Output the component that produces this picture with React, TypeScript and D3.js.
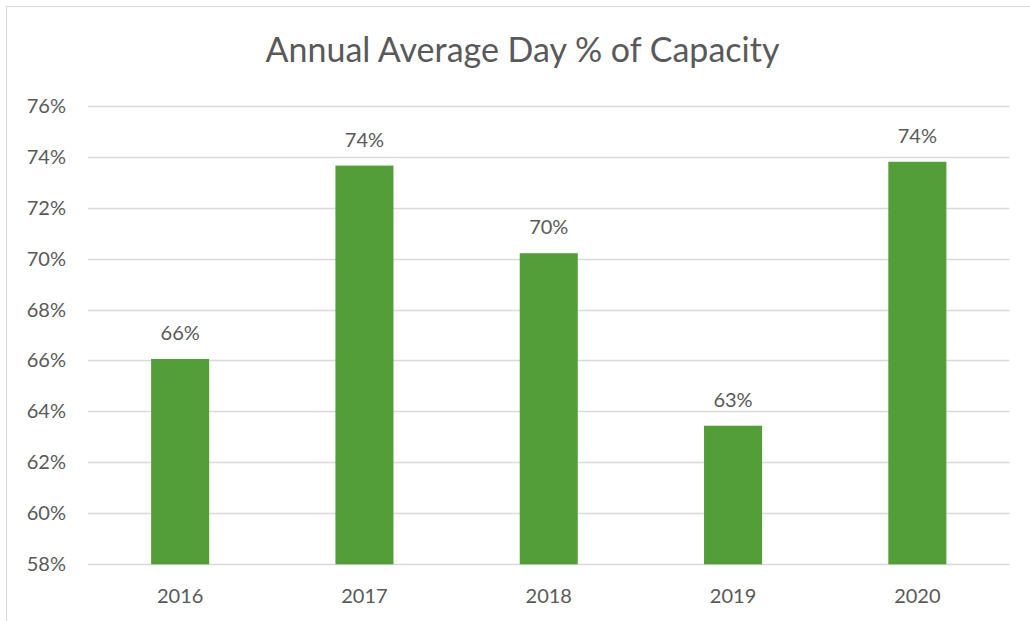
import React, { useEffect, useRef } from "react";
import * as d3 from "d3";

const title = "Annual Average Day % of Capacity";
const years = ["2016", "2017", "2018", "2019", "2020"];
const capacity = [66.06, 73.65, 70.21, 63.44, 73.8];
const yTicks = [58, 60, 62, 64, 66, 68, 70, 72, 74, 76];

const W = 1030;
const H = 621;
const FONT = "Lato, 'Open Sans', sans-serif";
const TEXT = "#595959";
const GRID = "#d9d9d9";
const BAR = "#549e39";

export default function App() {
  const ref = useRef<SVGSVGElement | null>(null);

  useEffect(() => {
    const svg = d3.select(ref.current);
    svg.selectAll("*").remove();

    const left = 88, right = 1009.5, top = 105.7, bottom = 564.3;

    const x = d3.scaleBand<string>()
      .domain(years)
      .range([left, right])
      .paddingInner(0.685)
      .paddingOuter(0.3425);
    const y = d3.scaleLinear().domain([58, 76]).range([bottom, top]);

    svg.append("rect")
      .attr("x", 0).attr("y", 0).attr("width", W).attr("height", H)
      .attr("fill", "#ffffff");
    svg.append("rect")
      .attr("x", 6.5).attr("y", 6.5).attr("width", W + 20).attr("height", H + 20)
      .attr("fill", "none").attr("stroke", GRID).attr("stroke-width", 1);

    svg.append("text")
      .attr("x", 522.5)
      .attr("y", 61.5)
      .attr("text-anchor", "middle")
      .attr("font-family", FONT)
      .attr("font-size", 34)
      .attr("fill", TEXT)
      .text(title);

    const grid = svg.append("g");
    grid.selectAll("line")
      .data(yTicks)
      .join("line")
      .attr("x1", left).attr("x2", right)
      .attr("y1", (d) => Math.round(y(d)) + 0.5)
      .attr("y2", (d) => Math.round(y(d)) + 0.5)
      .attr("stroke", GRID)
      .attr("stroke-width", 1.3);

    svg.append("g").selectAll("text")
      .data(yTicks)
      .join("text")
      .attr("x", 66)
      .attr("y", (d) => y(d))
      .attr("dy", "0.35em")
      .attr("text-anchor", "end")
      .attr("font-family", FONT)
      .attr("font-size", 20)
      .attr("fill", TEXT)
      .text((d) => `${d}%`);

    svg.append("g").selectAll("rect")
      .data(capacity)
      .join("rect")
      .attr("x", (_, i) => x(years[i])!)
      .attr("width", x.bandwidth())
      .attr("y", (d) => y(d))
      .attr("height", (d) => y(58) - y(d))
      .attr("fill", BAR);

    svg.append("g").selectAll("text")
      .data(capacity)
      .join("text")
      .attr("x", (_, i) => x(years[i])! + x.bandwidth() / 2)
      .attr("y", (d) => y(d) - 19)
      .attr("text-anchor", "middle")
      .attr("font-family", FONT)
      .attr("font-size", 20)
      .attr("fill", TEXT)
      .text((d) => `${Math.round(d)}%`);

    svg.append("g").selectAll("text")
      .data(years)
      .join("text")
      .attr("x", (d) => x(d)! + x.bandwidth() / 2)
      .attr("y", 603)
      .attr("text-anchor", "middle")
      .attr("font-family", FONT)
      .attr("font-size", 20)
      .attr("fill", TEXT)
      .text((d) => d);
  }, []);

  return (
    <svg
      ref={ref}
      width={W}
      height={H}
      style={{ position: "fixed", left: 0, top: 0, display: "block" }}
    />
  );
}
